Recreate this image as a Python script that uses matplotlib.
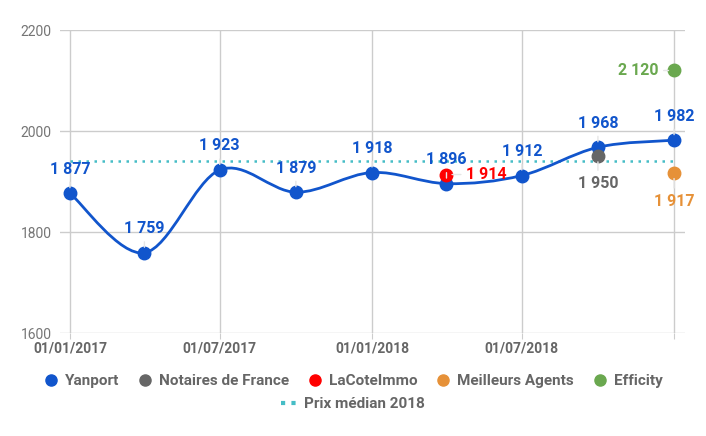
import numpy as np
import matplotlib.pyplot as plt
import matplotlib.dates as mdates
from matplotlib.path import Path
from matplotlib.patches import PathPatch
from matplotlib.lines import Line2D
from datetime import date

plt.rcParams['font.family'] = ['Roboto', 'DejaVu Sans']

# data
yanport_dates = [date(2017, 1, 1), date(2017, 4, 1), date(2017, 7, 1), date(2017, 10, 1),
                 date(2018, 1, 1), date(2018, 4, 1), date(2018, 7, 1), date(2018, 10, 1),
                 date(2019, 1, 1)]
yanport = [1877, 1759, 1923, 1879, 1918, 1896, 1912, 1968, 1982]
notaires_date, notaires = date(2018, 10, 1), 1950
lacote_date, lacote = date(2018, 4, 1), 1914
ma_date, meilleurs_agents = date(2019, 1, 1), 1917
efficity_date, efficity = date(2019, 1, 1), 2120
median_2018 = 1940
median_span = [date(2017, 1, 1), date(2019, 1, 1)]
tick_dates = [date(2017, 1, 1), date(2017, 7, 1), date(2018, 1, 1), date(2018, 7, 1), date(2019, 1, 1)]
tick_labels = ['01/01/2017', '01/07/2017', '01/01/2018', '01/07/2018', '']

BLUE, GREY, RED, ORANGE, GREEN, CYAN = '#1155cc', '#666666', '#ff0000', '#e69138', '#6aa84f', '#46bdc6'


def fmt(v):
    return f'{v:,}'.replace(',', ' ')


fig = plt.figure(figsize=(7.06, 4.36), dpi=100)
ax = fig.add_axes([0.085, 0.236, 0.885, 0.695])

ax.set_ylim(1600, 2200)
ax.set_yticks([1600, 1800, 2000, 2200])
ax.set_xlim(mdates.date2num(date(2016, 12, 20)), mdates.date2num(date(2019, 1, 14)))
ax.set_xticks(mdates.date2num(tick_dates))
ax.set_xticklabels(tick_labels, fontsize=10, fontweight='bold', color='#666666')
ax.tick_params(axis='y', length=0, labelsize=10, labelcolor='#757575', pad=6)
ax.tick_params(axis='x', length=4, color='#cccccc', pad=2)
ax.grid(True, color='#cccccc', lw=1)
ax.set_axisbelow(True)
for s in ax.spines.values():
    s.set_visible(False)

# smooth yanport line (catmull-rom as bezier)
xs = mdates.date2num(yanport_dates)
pts = np.column_stack([xs, yanport])
verts = [pts[0]]
codes = [Path.MOVETO]
n = len(pts)
for i in range(n - 1):
    p0 = pts[max(i - 1, 0)]
    p1 = pts[i]
    p2 = pts[i + 1]
    p3 = pts[min(i + 2, n - 1)]
    verts += [p1 + (p2 - p0) / 6, p2 - (p3 - p1) / 6, p2]
    codes += [Path.CURVE4] * 3
ax.add_patch(PathPatch(Path(verts, codes), fill=False, ec=BLUE, lw=2, zorder=3))

ax.plot(mdates.date2num(median_span), [median_2018] * 2, ls=(0, (1, 2.2)), color=CYAN, lw=1.8, zorder=2)

ms = 9
ax.plot(xs, yanport, 'o', color=BLUE, ms=ms, zorder=4)
ax.plot(mdates.date2num(notaires_date), notaires, 'o', color=GREY, ms=ms, zorder=4)
ax.plot(mdates.date2num(lacote_date), lacote, 'o', color=RED, ms=ms, zorder=5)
ax.plot(mdates.date2num(ma_date), meilleurs_agents, 'o', color=ORANGE, ms=ms, zorder=4)
ax.plot(mdates.date2num(efficity_date), efficity, 'o', color=GREEN, ms=ms, zorder=4)


def label(d, v, color, dx, dy, ha='center'):
    ax.annotate(fmt(v), (mdates.date2num(d), v), xytext=(dx, dy), textcoords='offset pixels',
                ha=ha, va='center', color=color, fontsize=11.5, fontweight='bold', zorder=6,
                arrowprops=dict(arrowstyle='-', color='#e6e6e6', lw=1, shrinkA=2, shrinkB=4))


for d, v in zip(yanport_dates, yanport):
    label(d, v, BLUE, 0, 24)
label(lacote_date, lacote, RED, 20, 0, ha='left')
label(notaires_date, notaires, GREY, 0, -27)
label(ma_date, meilleurs_agents, ORANGE, 0, -28)
label(efficity_date, efficity, GREEN, -16, 0, ha='right')

# legends
h1 = [Line2D([], [], ls='', marker='o', ms=8, color=c) for c in (BLUE, GREY, RED, ORANGE, GREEN)]
leg1 = fig.legend(h1, ['Yanport', 'Notaires de France', 'LaCoteImmo', 'Meilleurs Agents', 'Efficity'],
                  loc='center', bbox_to_anchor=(0.5, 1 - 381 / 436), ncol=5, frameon=False,
                  handlelength=1, handletextpad=0.4, columnspacing=1.2,
                  prop=dict(size=11, weight='bold'))
for t in leg1.get_texts():
    t.set_color('#666666')
h2 = [Line2D([], [], ls=(0, (1, 1.5)), lw=3, color=CYAN)]
leg2 = fig.legend(h2, ['Prix médian 2018'], loc='center', bbox_to_anchor=(0.5, 1 - 404 / 436),
                  frameon=False, handlelength=1, handletextpad=0.5,
                  prop=dict(size=11, weight='bold'))
for t in leg2.get_texts():
    t.set_color('#666666')

fig.savefig('out.png', dpi=100)
